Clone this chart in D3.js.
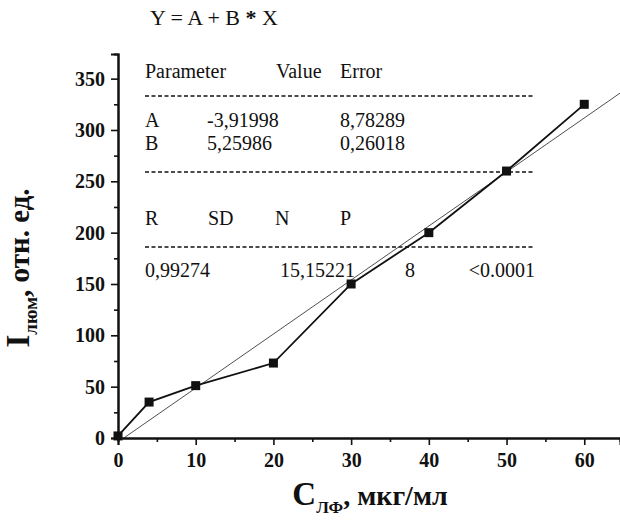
<!DOCTYPE html>
<html>
<head>
<meta charset="utf-8">
<title>Calibration</title>
<script src="https://d3js.org/d3.v7.min.js"></script>
<style>
  body { margin: 0; background: #fff; }
  svg text { font-family: "Liberation Serif", "DejaVu Serif", serif; fill: #111; }
  .tick-label { font-size: 20px; font-weight: bold; }
  .tbl { font-size: 20px; }
  .title { font-weight: bold; }
</style>
</head>
<body>
<script>
// measured points
var conc = [0, 4, 10, 20, 30, 40, 50, 60];
var lum = [2, 35, 51, 73, 150, 200, 260, 325];
var xTicks = [0, 10, 20, 30, 40, 50, 60];
var yTicks = [0, 50, 100, 150, 200, 250, 300, 350];
// linear fit Y = A + B*X
var fitA = -3.91998, fitB = 5.25986;
var tblHead = ["Parameter", "Value", "Error"];
var tblA = ["A", "-3,91998", "8,78289"];
var tblB = ["B", "5,25986", "0,26018"];
var statHead = ["R", "SD", "N", "P"];
var statVals = ["0,99274", "15,15221", "8", "<0.0001"];

var serif = "'Liberation Serif', 'DejaVu Serif', serif";
var width = 620, height = 522;
var svg = d3.select("body").append("svg")
  .attr("width", width).attr("height", height);

var x = d3.scaleLinear().domain([0, 64.6]).range([118, 620]);
var y = d3.scaleLinear().domain([0, 374]).range([438, 54]);

// formula on top
svg.append("text").attr("x", 150).attr("y", 25).style("font-size", "22px")
  .style("font-family", serif)
  .html('Y = A + B <tspan font-weight="bold">*</tspan> X');

// table
var tbl = svg.append("g").attr("class", "tbl");
function row(vals, xs, yy) {
  vals.forEach(function (v, i) {
    tbl.append("text").attr("x", xs[i]).attr("y", yy).style("font-family", serif).text(v);
  });
}
row(tblHead, [145, 276, 340], 78);
row(tblA, [145, 207, 340], 127);
row(tblB, [145, 207, 340], 150);
row(statHead, [145, 208, 275, 340], 225);
row(statVals.slice(0, 3), [145, 280, 405], 277);
tbl.append("text").attr("x", 535).attr("y", 277).attr("text-anchor", "end")
  .style("font-family", serif).text(statVals[3]);
[96, 172, 247].forEach(function (yy) {
  svg.append("line").attr("x1", 145).attr("x2", 535).attr("y1", yy).attr("y2", yy)
    .attr("stroke", "#111").attr("stroke-width", 1.3).attr("stroke-dasharray", "4,2.5");
});

// fit line
var x0 = -fitA / fitB, x1 = x.domain()[1];
svg.append("line")
  .attr("x1", x(x0)).attr("y1", y(fitA + fitB * x0))
  .attr("x2", x(x1)).attr("y2", y(fitA + fitB * x1))
  .attr("stroke", "#222").attr("stroke-width", 0.8);

// data line
var pts = conc.map(function (c, i) { return [c, lum[i]]; });
svg.append("path").datum(pts)
  .attr("d", d3.line().x(function (d) { return x(d[0]); }).y(function (d) { return y(d[1]); }))
  .attr("fill", "none").attr("stroke", "#111").attr("stroke-width", 1.8);
svg.selectAll("rect.pt").data(pts).enter().append("rect").attr("class", "pt")
  .attr("x", function (d) { return x(d[0]) - 4.5; })
  .attr("y", function (d) { return y(d[1]) - 4.5; })
  .attr("width", 9).attr("height", 9).attr("fill", "#111");

// axes
var xAxis = svg.append("g").attr("transform", "translate(0," + y(0) + ")");
xAxis.call(d3.axisBottom(x).tickValues(d3.range(5, 65, 10)).tickSize(4).tickFormat(""));
xAxis.call(function (g) {
  g.append("g").call(d3.axisBottom(x).tickValues(xTicks).tickSize(7).tickPadding(8));
});
var yAxis = svg.append("g").attr("transform", "translate(" + x(0) + ",0)");
yAxis.call(d3.axisLeft(y).tickValues(d3.range(25, 375, 50)).tickSize(4).tickFormat(""));
yAxis.call(function (g) {
  g.append("g").call(d3.axisLeft(y).tickValues(yTicks).tickSize(7).tickPadding(6));
});
svg.selectAll("g").attr("font-family", null);
svg.selectAll(".domain").attr("stroke", "#111").attr("stroke-width", 2);
svg.selectAll(".tick line").attr("stroke", "#111").attr("stroke-width", 1.6);
svg.selectAll(".tick text").attr("class", "tick-label").style("font-family", serif);

// axis titles
svg.append("text").attr("class", "title").attr("x", 370).attr("y", 505)
  .attr("text-anchor", "middle").style("font-size", "28px").style("font-family", serif)
  .html('<tspan style="font-size:33px">C</tspan><tspan dy="8" style="font-size:17px">ЛФ</tspan><tspan dy="-8">, мкг/мл</tspan>');
svg.append("text").attr("class", "title")
  .attr("transform", "translate(29,268) rotate(-90)")
  .attr("text-anchor", "middle").style("font-size", "29px").style("font-family", serif)
  .html('<tspan style="font-size:33px">I</tspan><tspan dy="8" style="font-size:19px">люм</tspan><tspan dy="-8">, отн. ед.</tspan>');
</script>
</body>
</html>
